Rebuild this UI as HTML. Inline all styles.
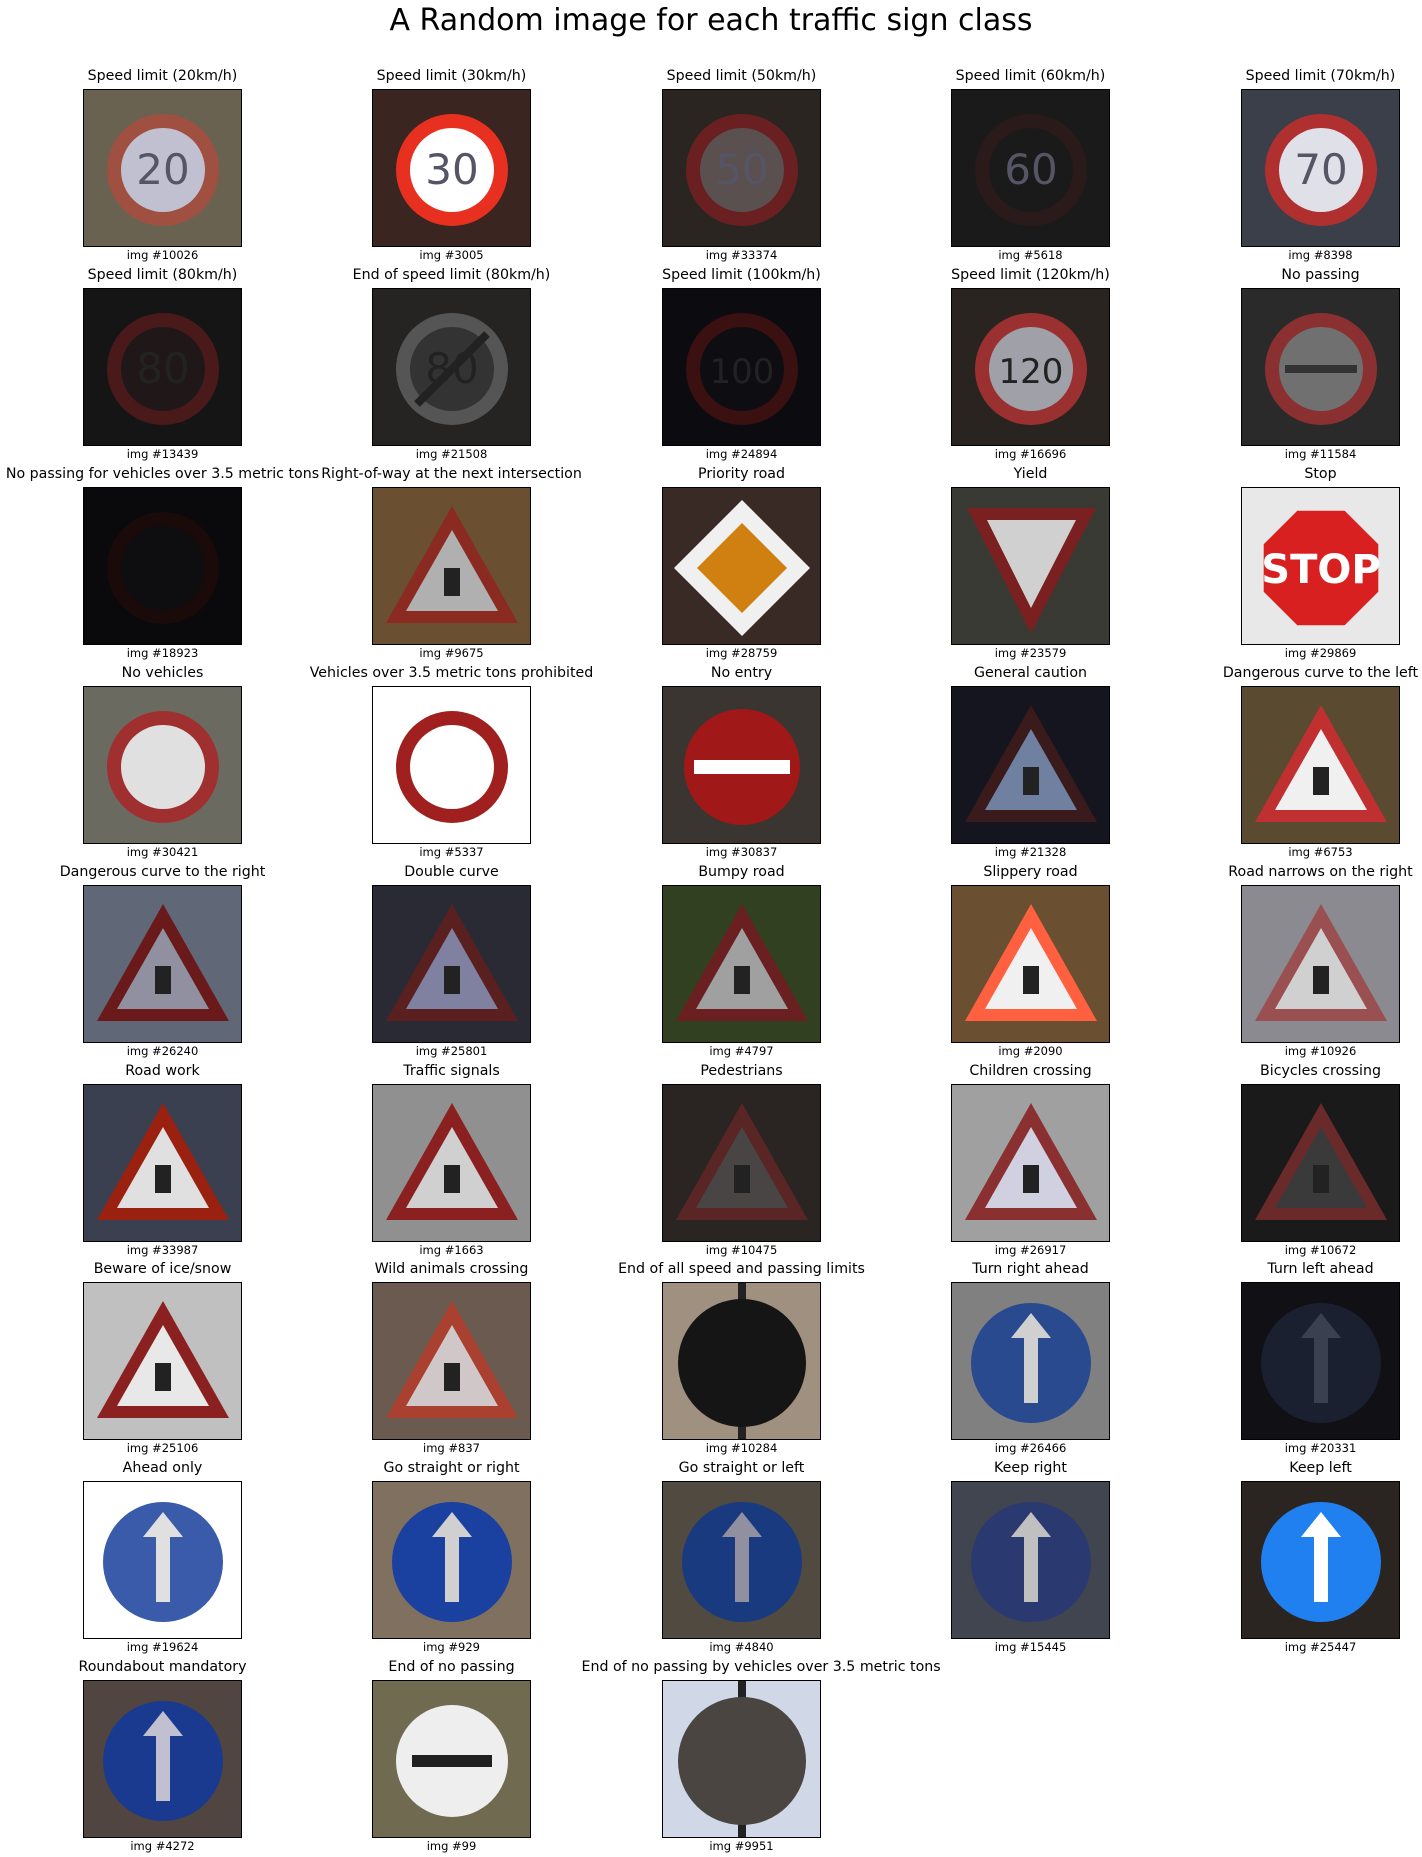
<!DOCTYPE html>
<html><head><meta charset="utf-8">
<style>
body{margin:0;background:#fff;width:1422px;height:1857px;overflow:hidden;font-family:"DejaVu Sans","Liberation Sans",sans-serif;position:relative}
#title{position:absolute;left:0;width:1422px;top:3px;text-align:center;font-size:30px;color:#000}
.t{position:absolute;width:320px;text-align:center;font-size:14.2px;color:#000;white-space:nowrap}
.c{position:absolute;width:200px;text-align:center;font-size:11.5px;color:#000}
svg.s{position:absolute;border:1px solid #000;box-sizing:border-box}
</style></head><body>
<div id="title">A Random image for each traffic sign class</div>
<script>
const titles=["Speed limit (20km/h)","Speed limit (30km/h)","Speed limit (50km/h)","Speed limit (60km/h)","Speed limit (70km/h)","Speed limit (80km/h)","End of speed limit (80km/h)","Speed limit (100km/h)","Speed limit (120km/h)","No passing","No passing for vehicles over 3.5 metric tons","Right-of-way at the next intersection","Priority road","Yield","Stop","No vehicles","Vehicles over 3.5 metric tons prohibited","No entry","General caution","Dangerous curve to the left","Dangerous curve to the right","Double curve","Bumpy road","Slippery road","Road narrows on the right","Road work","Traffic signals","Pedestrians","Children crossing","Bicycles crossing","Beware of ice/snow","Wild animals crossing","End of all speed and passing limits","Turn right ahead","Turn left ahead","Ahead only","Go straight or right","Go straight or left","Keep right","Keep left","Roundabout mandatory","End of no passing","End of no passing by vehicles over 3.5 metric tons"];
const imgIds=[10026,3005,33374,5618,8398,13439,21508,24894,16696,11584,18923,9675,28759,23579,29869,30421,5337,30837,21328,6753,26240,25801,4797,2090,10926,33987,1663,10475,26917,10672,25106,837,10284,26466,20331,19624,929,4840,15445,25447,4272,99,9951];
const types=["ring","ring","ring","ring","ring","ring","grey","ring","ring","ring","ring","tri","diamond","yield","stop","ring","ring","noentry","tri","tri","tri","tri","tri","tri","tri","tri","tri","tri","tri","tri","tri","tri","black","blue","blue","blue","blue","blue","blue","blue","blue","white","black"];
const bgs=["#6a6250","#3a2520","#2a2520","#1a1a1a","#3a3f4a","#151515","#252423","#0c0c10","#2a2420","#2a2a2a","#0a0a0c","#6a5030","#3a2a25","#3a3a35","#e8e8e8","#6a6a60","#ffffff","#3a3530","#151520","#5a4a30","#606878","#2a2a35","#304020","#6a5030","#8a8a90","#3a4050","#909090","#2a2522","#a0a0a0","#1a1a1a","#c0c0c0","#6a5a50","#a09080","#808080","#101015","#ffffff","#807060","#504a40","#404550","#2a2520","#504540","#706a50","#d0d8e8"];
const fgs=["#a05040","#e83020","#6a2020","#2a1a1a","#b03030","#4a1a1a","#555","#3a1010","#9a3030","#8a3030","#1a0a0a","#8a2a20","#d08010","#7a2020","#d82020","#a03030","#a02020","#a01818","#3a1a1a","#c03030","#6a1a1a","#5a2020","#6a2020","#ff6040","#9a5050","#9a2010","#8a2020","#5a2525","#8a3030","#6a2a2a","#8a2020","#aa4030","#151515","#2a4a90","#1a2030","#3a5aaa","#1a40a0","#1a3a80","#2a3a70","#2080f0","#1a3a90","#e0e0e0","#4a4540"];
const inners=["#c0c0d0","#ffffff","#5a5050","#1a1a1a","#e0e0e8","#201818","#333","#0e0e12","#a0a0a8","#707070","#0e0e10","#b0b0b0","#f0f0f0","#d0d0d0","#fff","#e0e0e0","#ffffff","#ffffff","#7080a0","#f0f0f0","#9090a0","#8080a0","#a0a0a0","#f0f0f0","#d0d0d0","#e0e0e0","#d0d0d0","#4a4545","#d0d0e0","#3a3a3a","#e8e8e8","#d0c8c8","#151515","#d0d0d0","#3a4050","#e0e0e0","#d0d0d0","#9090a0","#c0c0c0","#ffffff","#c0c0d0","#202020","#202020"];
const labels=["20","30","50","60","70","80","80","100","120","","","","","","STOP"];
const colX=[83,372,662,951,1241], rowY=[89,288,487,686,885,1084,1282,1481,1680];
const W=159,H=158;
const NS="http://www.w3.org/2000/svg";
function mk(tag,attrs,parent){const e=document.createElementNS(NS,tag);for(const k in attrs)e.setAttribute(k,attrs[k]);parent.appendChild(e);return e;}
titles.forEach((t,i)=>{
  const x=colX[i%5], y=rowY[Math.floor(i/5)];
  const d=document.createElement('div');d.className='t';d.textContent=t;
  d.style.left=(x+W/2-160)+'px';d.style.top=(y-21)+'px';
  
  
  document.body.appendChild(d);
  const c=document.createElement('div');c.className='c';c.textContent='img #'+imgIds[i];
  c.style.left=(x+W/2-100)+'px';c.style.top=(y+H+1)+'px';
  
  
  document.body.appendChild(c);
  const s=document.createElementNS(NS,'svg');s.setAttribute('class','s');
  s.setAttribute('width',W);s.setAttribute('height',H);s.style.left=x+'px';s.style.top=y+'px';
  
  
  document.body.appendChild(s);
  mk('rect',{x:0,y:0,width:W,height:H,fill:bgs[i]},s);
  const ty=types[i],fg=fgs[i],inn=inners[i],cx=79,cy=80;
  if(ty==='ring'||ty==='grey'){
    mk('circle',{cx,cy,r:56,fill:fg},s);mk('circle',{cx,cy,r:42,fill:inn},s);
    if(labels[i])mk('text',{x:cx,y:cy+14,'text-anchor':'middle','font-size':labels[i].length>2?34:42,'font-family':'DejaVu Sans','fill':i<5?'#556':'#222'},s).textContent=labels[i];
    if(i==9){mk('rect',{x:cx-36,y:cy-4,width:72,height:8,fill:'#333'},s);}
    if(i==6){mk('line',{x1:cx-35,y1:cy+35,x2:cx+35,y2:cy-35,stroke:'#222','stroke-width':8},s);}
  }else if(ty==='tri'){
    mk('polygon',{points:`${cx},18 ${cx+66},135 ${cx-66},135`,fill:fg},s);
    mk('polygon',{points:`${cx},42 ${cx+46},123 ${cx-46},123`,fill:inn},s);
    mk('rect',{x:cx-8,y:80,width:16,height:28,fill:'#222'},s);
  }else if(ty==='diamond'){
    mk('polygon',{points:`${cx},12 ${cx+68},${cy} ${cx},148 ${cx-68},${cy}`,fill:inn},s);
    mk('polygon',{points:`${cx},35 ${cx+45},${cy} ${cx},125 ${cx-45},${cy}`,fill:fg},s);
  }else if(ty==='yield'){
    mk('polygon',{points:`15,20 144,20 ${cx},145`,fill:fg},s);
    mk('polygon',{points:`35,32 124,32 ${cx},120`,fill:inn},s);
  }else if(ty==='stop'){
    const p=[];for(let k=0;k<8;k++){const a=Math.PI/8+k*Math.PI/4;p.push((cx+62*Math.cos(a)).toFixed(1)+','+(cy+62*Math.sin(a)).toFixed(1));}
    mk('polygon',{points:p.join(' '),fill:fg},s);
    mk('text',{x:cx,y:cy+15,'text-anchor':'middle','font-size':40,'font-weight':'bold','font-family':'DejaVu Sans',fill:'#fff'},s).textContent='STOP';
  }else if(ty==='noentry'){
    mk('circle',{cx,cy,r:58,fill:fg},s);mk('rect',{x:cx-48,y:cy-7,width:96,height:14,fill:inn},s);
  }else if(ty==='blue'){
    mk('circle',{cx,cy,r:60,fill:fg},s);
    mk('rect',{x:cx-7,y:cy-30,width:14,height:70,fill:inn},s);
    mk('polygon',{points:`${cx},${cy-50} ${cx+20},${cy-25} ${cx-20},${cy-25}`,fill:inn},s);
  }else if(ty==='black'){
    mk('rect',{x:cx-4,y:0,width:8,height:H,fill:'#222'},s);
    mk('circle',{cx,cy,r:64,fill:fg},s);
  }else if(ty==='white'){
    mk('circle',{cx,cy,r:56,fill:'#eee'},s);mk('rect',{x:cx-40,y:cy-6,width:80,height:12,fill:inn},s);
  }
});
</script>
</body></html>
